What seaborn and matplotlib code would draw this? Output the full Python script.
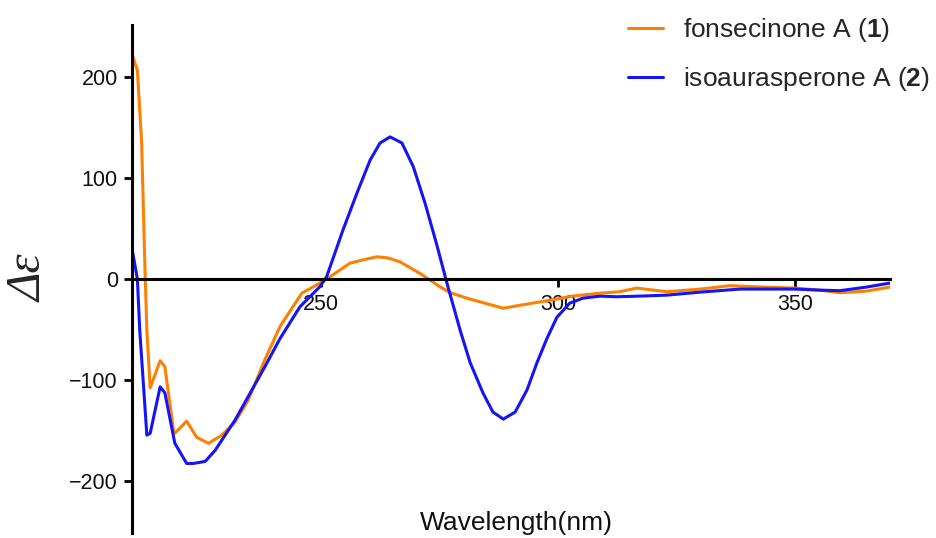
import seaborn as sns
import matplotlib.pyplot as plt

# CD spectra (wavelength nm, delta epsilon)
wl_fon = [210, 211.2, 212.1, 212.8, 213.2, 213.9, 216, 217, 218.8, 219.1, 221.6,
          223.7, 226.2, 229, 231.8, 234.6, 238.1, 241.3, 245.9, 249, 251.8, 256,
          258.8, 261.7, 264, 266.6, 270.8, 275, 277.2, 280.7, 284.5, 288.4, 292,
          298.3, 303, 308.8, 313, 316.5, 322.9, 330, 336.2, 343, 350, 355, 359.4,
          365, 370]
cd_fon = [224, 207, 135, 10, -51, -108, -81, -87, -150, -153, -141,
          -157, -163, -155, -142, -120, -80, -47, -14, -6, 2, 15.6,
          19, 22, 21, 17, 5.6, -7.6, -13.6, -19, -24, -29, -26,
          -21, -17, -14, -12.6, -9, -12.6, -10, -6.6, -8, -9, -11, -13.6,
          -12, -8]

wl_iso = [210, 211.2, 211.7, 213.2, 213.9, 216, 217, 219.1, 221.6, 223, 225.5,
          227.6, 231.8, 238.1, 241.3, 245.5, 249.7, 251.1, 254.6, 257.5, 260.3,
          262.4, 264.5, 267, 269.4, 271.9, 274.3, 276.5, 279.3, 281.4, 284.1,
          286.2, 288.4, 290.9, 293.4, 295.5, 297.6, 299.7, 302.4, 305.2, 308.8,
          312.3, 317, 322.9, 330, 338.3, 344, 350, 355, 359.4, 365, 370]
cd_iso = [32, 0, -51, -155, -153, -107, -113, -163, -183, -183, -181,
          -170, -140, -87, -59, -27.5, -7.6, 2, 49, 85, 118,
          135, 141, 135, 111.5, 75, 35, -4, -51, -83, -113,
          -132, -139, -132, -110, -83, -59, -38, -24, -19, -17,
          -17.6, -17, -16, -13, -10, -10, -10, -11, -11.6, -8, -4]

labels = ['fonsecinone A ($\\mathbf{1}$)', 'isoaurasperone A ($\\mathbf{2}$)']
xticks = [250, 300, 350]
yticks = [-200, -100, 0, 100, 200]

sns.set_style('ticks')
plt.rcParams['font.family'] = ['Liberation Sans', 'DejaVu Sans']
plt.rcParams['mathtext.fontset'] = 'custom'
plt.rcParams['mathtext.rm'] = 'Liberation Sans'
plt.rcParams['mathtext.bf'] = 'Liberation Sans:bold'

fig = plt.figure(figsize=(9.36, 5.38), dpi=100)
ax = fig.add_axes([0.1407, 0.0093, 0.8103, 0.9442])

sns.lineplot(x=wl_fon, y=cd_fon, ax=ax, color='#ff8000', lw=2.2, label=labels[0], estimator=None)
sns.lineplot(x=wl_iso, y=cd_iso, ax=ax, color='#1414f5', lw=2.2, label=labels[1], estimator=None)

ax.set_xlim(210, 370)
ax.set_ylim(-252, 252)
ax.spines['top'].set_visible(False)
ax.spines['right'].set_visible(False)
ax.spines['bottom'].set_position(('data', 0))
for s in ['left', 'bottom']:
    ax.spines[s].set_linewidth(2.2)
    ax.spines[s].set_color('black')
ax.set_xticks(xticks)
ax.set_yticks(yticks)
ax.set_yticklabels(['\u2212200', '\u2212100', '0', '100', '200'])
ax.tick_params(axis='both', length=6, width=2.0, labelsize=15.5, color='black', labelcolor='#111111')
ax.tick_params(axis='x', pad=5)
ax.tick_params(axis='y', pad=4)

ax.set_xlabel('Wavelength(nm)', fontsize=19, color='#111111')
ax.xaxis.set_label_coords(0.507, 0.043)
ax.set_ylabel('')
fig.text(0.032, 0.483, '\u0394\u03b5', rotation=90, ha='center', va='center',
         family=['Liberation Serif', 'DejaVu Serif'], style='italic', fontsize=35)

ax.legend(loc='upper left', bbox_to_anchor=(0.671, 0.97), bbox_transform=fig.transFigure,
          frameon=False, fontsize=19, handlelength=1.33, handletextpad=0.76,
          labelspacing=0.8, borderpad=0, borderaxespad=0)

fig.savefig('out.png', dpi=100)
